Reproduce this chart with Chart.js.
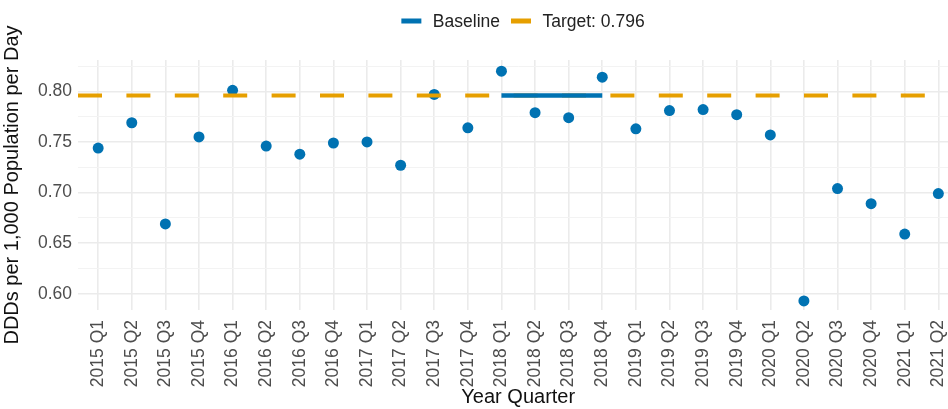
<!DOCTYPE html>
<html><head><meta charset="utf-8">
<script src="https://cdn.jsdelivr.net/npm/chart.js@4/dist/chart.umd.min.js"></script>
<style>html,body{margin:0;padding:0;background:#fff;overflow:hidden}
#wrap{width:964px;height:409px;position:relative}</style>
</head><body><div id="wrap"><canvas id="c" width="964" height="409"></canvas></div>
<script>
const quarters = ['2015 Q1','2015 Q2','2015 Q3','2015 Q4','2016 Q1','2016 Q2','2016 Q3','2016 Q4',
  '2017 Q1','2017 Q2','2017 Q3','2017 Q4','2018 Q1','2018 Q2','2018 Q3','2018 Q4',
  '2019 Q1','2019 Q2','2019 Q3','2019 Q4','2020 Q1','2020 Q2','2020 Q3','2020 Q4','2021 Q1','2021 Q2'];
const ddd = [0.744,0.769,0.669,0.755,0.801,0.746,0.738,0.749,
  0.750,0.727,0.797,0.764,0.820,0.779,0.774,0.814,
  0.763,0.781,0.782,0.777,0.757,0.593,0.704,0.689,0.659,0.699];
const targetValue = 0.796;
const baselineQuarters = ['2018 Q1','2018 Q2','2018 Q3','2018 Q4'];
const yMajorTicks = [0.60,0.65,0.70,0.75,0.80];
const yMinorTicks = [0.625,0.675,0.725,0.775,0.825];
const seriesNames = ['Baseline','Target: ' + targetValue];
const yRange = [0.584, 0.831];
const xExpand = 0.6;

const BLUE = '#0072B2', ORANGE = '#E69F00';
const FONT = "'Liberation Sans', Arial, sans-serif";
const isMajor = v => yMajorTicks.some(m => Math.abs(m - v) < 1e-9);

const legendPlugin = {
  id: 'customLegend',
  afterDraw(chart) {
    const ctx = chart.ctx;
    ctx.save();
    ctx.font = '17.5px ' + FONT;
    const keyW = 20, keyGap = 11.5, itemGap = 11;
    const items = [{c: BLUE, t: seriesNames[0]}, {c: ORANGE, t: seriesNames[1]}];
    let total = 0;
    items.forEach((it, i) => { total += keyW + keyGap + ctx.measureText(it.t).width + (i ? 0 : itemGap); });
    let x = 523 - total / 2;
    const y = 21;
    ctx.textBaseline = 'middle';
    items.forEach(it => {
      ctx.fillStyle = it.c;
      ctx.fillRect(x, y - 2.5, keyW, 5);
      x += keyW + keyGap;
      ctx.fillStyle = '#222';
      ctx.fillText(it.t, x, y + 1);
      x += ctx.measureText(it.t).width + itemGap;
    });
    ctx.restore();
  }
};

new Chart(document.getElementById('c'), {
  type: 'scatter',
  data: {
    datasets: [
      {
        label: seriesNames[0],
        data: baselineQuarters.map(q => ({x: quarters.indexOf(q), y: targetValue})),
        showLine: true, borderColor: BLUE, borderWidth: 4.5,
        pointRadius: 0, order: 1
      },
      {
        label: seriesNames[1],
        data: [{x: -xExpand, y: targetValue}, {x: quarters.length - 1 + xExpand, y: targetValue}],
        showLine: true, borderColor: ORANGE, borderWidth: 4, borderDash: [24, 24.4],
        pointRadius: 0, order: 2
      },
      {
        label: 'DDD',
        data: quarters.map((q, i) => ({x: i, y: ddd[i]})),
        pointRadius: 5.5, pointBackgroundColor: BLUE, pointBorderWidth: 0,
        borderColor: BLUE, order: 3
      }
    ]
  },
  options: {
    responsive: false,
    animation: false,
    events: [],
    layout: {padding: {top: 60, right: 2, left: 0, bottom: 0}},
    plugins: {legend: {display: false}, tooltip: {enabled: false}},
    scales: {
      x: {
        type: 'linear',
        min: -xExpand, max: quarters.length - 1 + xExpand,
        afterBuildTicks: axis => { axis.ticks = quarters.map((q, i) => ({value: i})); },
        afterFit: s => { s.height = 99; s.paddingLeft = 0; s.paddingRight = 0; },
        border: {display: false},
        grid: {color: '#EBEBEB', lineWidth: 1.6, drawTicks: false},
        ticks: {
          autoSkip: false, minRotation: 90, maxRotation: 90, padding: 10,
          color: '#4D4D4D', font: {family: FONT, size: 17.5},
          callback: v => quarters[v]
        },
        title: {display: true, text: 'Year Quarter', color: '#111',
          font: {family: FONT, size: 20}, padding: {top: 0, bottom: 0}}
      },
      y: {
        min: yRange[0], max: yRange[1],
        afterBuildTicks: axis => {
          axis.ticks = yMajorTicks.concat(yMinorTicks).sort((a, b) => a - b).map(v => ({value: v}));
        },
        afterFit: s => { s.width = 78; s.paddingTop = 0; s.paddingBottom = 0; },
        border: {display: false},
        grid: {
          drawTicks: false,
          color: c => isMajor(c.tick.value) ? '#EBEBEB' : '#F3F3F3',
          lineWidth: c => isMajor(c.tick.value) ? 1.6 : 1
        },
        ticks: {
          padding: 6, color: '#4D4D4D', font: {family: FONT, size: 17.5},
          callback: v => isMajor(v) ? v.toFixed(2) : ''
        },
        title: {display: true, text: 'DDDs per 1,000 Population per Day', color: '#111',
          font: {family: FONT, size: 20}, padding: {top: 0, bottom: 0}}
      }
    }
  },
  plugins: [legendPlugin]
});
</script>
</body></html>
